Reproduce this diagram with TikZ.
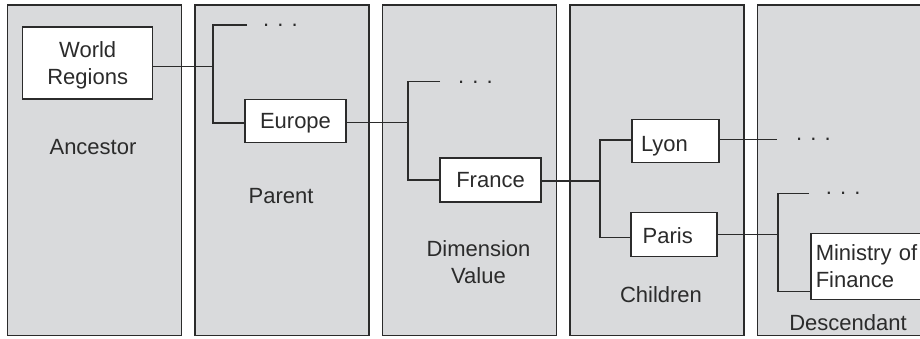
\documentclass[tikz,border=0pt]{standalone}
\usepackage{fontspec}
\setmainfont{Liberation Sans}
\definecolor{panelgray}{HTML}{D9DADC}
\definecolor{ink}{HTML}{2B2B2B}
\begin{document}
\begin{tikzpicture}[x=1pt,y=-1pt,
  font=\fontsize{22}{27.5}\selectfont, text=ink,
  panel/.style={draw=ink, fill=panelgray, line width=1.6pt},
  box/.style={draw=ink, fill=white, line width=1.5pt, inner sep=0pt},
  onebox/.style={box, text height=15.75pt, text depth=0pt},
  conn/.style={draw=ink, line width=1.3pt},
  plabel/.style={inner sep=0pt, anchor=base},
  dotsnode/.style={inner sep=0pt, anchor=base west}]
\useasboundingbox (0,0) rectangle (920,338);
\clip (0,0) rectangle (920,338);
% panels
\foreach \i in {0,...,4}{
  \draw[panel] (7.5+187.5*\i,5) rectangle ++(174,330.5);
}
% boxes
\node[box, minimum width=130, minimum height=72, align=center] (wr) at (87.7,63) {\rule{0pt}{20.7pt}World\\Regions};
\node[onebox, minimum width=101, minimum height=43.4] (eu) at (295.5,121) {Europe};
\node[onebox, minimum width=101, minimum height=44] (fr) at (490.5,180) {France};
\node[box, text height=21.4pt, text depth=0pt, text width=69, inner xsep=9, align=left, minimum height=43.4] (ly) at (675.5,141) {Lyon};
\node[box, text height=16.8pt, text depth=0pt, text width=62.6, inner xsep=11.7, align=left, minimum height=44] (pa) at (674,234.6) {Paris};
\node[box, anchor=west, text width=130, inner xsep=5, align=left, minimum height=66] (mf) at (810,266.3) {Ministry of\\Finance};
% panel labels
\node[plabel] (anc) at (93,154) {Ancestor};
\node[plabel] (par) at (281,203) {Parent};
\node[inner sep=0pt, anchor=north, align=center, font=\fontsize{22}{26.7}\selectfont] (dv) at (478.5,240.25) {Dimension\\Value};
\node[plabel] (chi) at (661,302.7) {Children};
\node[plabel] (des) at (848,330) {Descendant};
% ellipses
\node[dotsnode] (d1) at (263,26.5) {. . .};
\node[dotsnode] (d2) at (458,83) {. . .};
\node[dotsnode] (d3) at (796,140.8) {. . .};
\node[dotsnode] (d4) at (825.7,194.2) {. . .};
% stub ends and junctions
\coordinate (s1) at (247,25);
\coordinate (s2) at (440,81.7);
\coordinate (s4) at (809,193.3);
\coordinate (e3) at (776.7,139.3);
\coordinate (j1) at (213,66.7);
\coordinate (j2) at (408,122.7);
\coordinate (j3) at (600,181);
\coordinate (j4) at (778,234.3);
\coordinate (eu-in) at ([yshift=-2pt]eu.west);
\coordinate (ly-in) at ([yshift=1pt]ly.west);
\coordinate (pa-in) at ([yshift=-3pt]pa.west);
\coordinate (mf-in) at ([yshift=8.3pt]mf.south west);
% connectors
\draw[conn] (wr.east |- j1) -- (j1);
\draw[conn] (s1) -- (s1 -| j1) -- (eu-in -| j1) -- (eu-in);
\draw[conn] (eu.east |- j2) -- (j2);
\draw[conn] (s2) -- (s2 -| j2) -- (fr.west -| j2) -- (fr.west);
\draw[conn] (fr.east |- j3) -- (j3);
\draw[conn] (ly-in) -- (ly-in -| j3) -- (pa-in -| j3) -- (pa-in);
\draw[conn] (ly.east |- e3) -- (e3);
\draw[conn] (pa.east |- j4) -- (j4);
\draw[conn] (s4) -- (s4 -| j4) -- (mf-in -| j4) -- (mf-in);
\end{tikzpicture}
\end{document}
